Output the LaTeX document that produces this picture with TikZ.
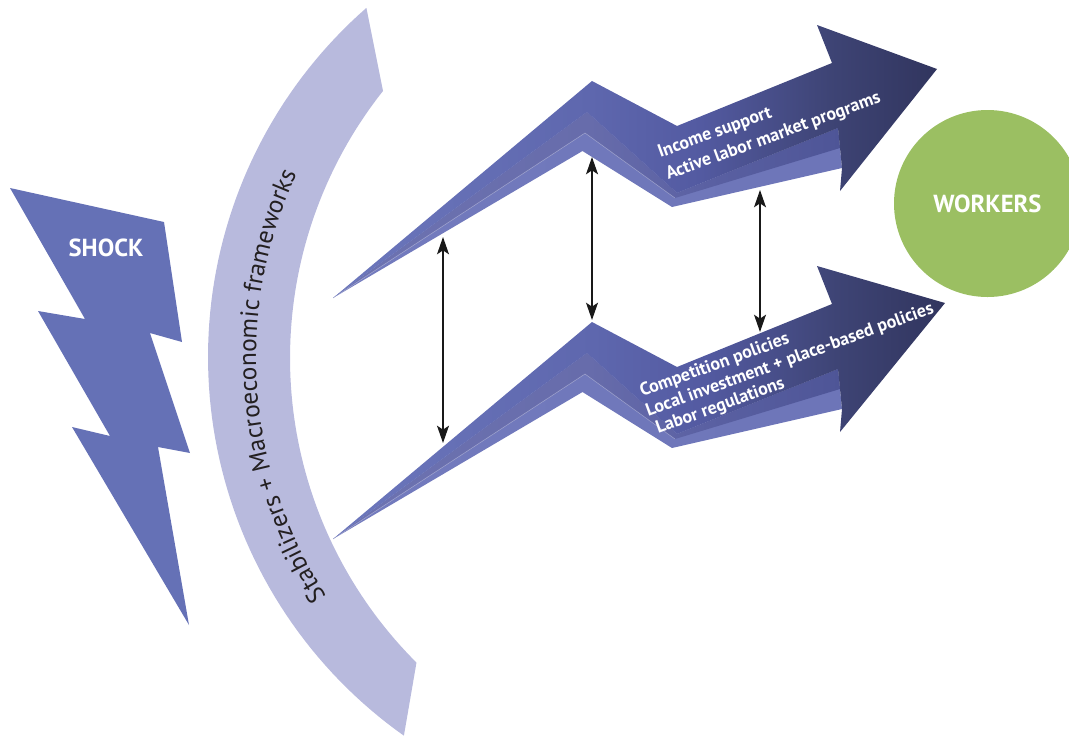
\documentclass[tikz,border=0pt]{standalone}
\usepackage{fontspec}
\setmainfont{PT Sans}
\usetikzlibrary{arrows.meta,decorations.text}
\definecolor{shockblue}{HTML}{6571B6}
\definecolor{shieldc}{HTML}{B8BADD}
\definecolor{workersg}{HTML}{9BBF62}
\definecolor{darktext}{HTML}{231F20}
\definecolor{tlA}{HTML}{6C77BC}
\definecolor{tlB}{HTML}{5E67AE}
\definecolor{tlC}{HTML}{535AA1}
\definecolor{tlD}{HTML}{3E4475}
\definecolor{tlE}{HTML}{31355E}
\definecolor{mlA}{HTML}{6D73B1}
\definecolor{mlB}{HTML}{676CAB}
\definecolor{mlC}{HTML}{5B61A3}
\definecolor{mlD}{HTML}{4E5597}
\definecolor{blA}{HTML}{737BBE}
\definecolor{blB}{HTML}{6D75B8}
\pgfdeclarehorizontalshading{toplayer}{100bp}{color(0bp)=(tlA); color(25bp)=(tlA); color(46.3bp)=(tlB); color(55.4bp)=(tlC); color(66.1bp)=(tlD); color(75bp)=(tlE); color(100bp)=(tlE)}
\pgfdeclarehorizontalshading{midlayer}{100bp}{color(0bp)=(mlA); color(25bp)=(mlA); color(50.2bp)=(mlB); color(61bp)=(mlC); color(75bp)=(mlD); color(100bp)=(mlD)}
\pgfdeclarehorizontalshading{botlayer}{100bp}{color(0bp)=(blA); color(25bp)=(blA); color(75bp)=(blB); color(100bp)=(blB)}
\newcommand\shieldfont{\fontsize{19}{21}\selectfont\color{darktext}}
\newcommand\zigarrow[4]{%
\begin{scope}[shift={(0,#2)}]
\coordinate (#1L) at (333,298);
\coordinate (#1P) at (592,81);
\coordinate (#1V) at (677,126);
\coordinate (#1N) at (832,63);
\coordinate (#1Ha) at (817,25);
\coordinate (#1H) at (#3,#4);
\coordinate (#1Hb) at (840,191);
\coordinate (#1Nb) at (842,168);
\coordinate (#1Ea) at (838,128);
\coordinate (#1Eb) at (840,148);
\coordinate (#1Pa) at (587,112);
\coordinate (#1Va) at (677,193);
\coordinate (#1Pb) at (585,133);
\coordinate (#1Vb) at (675,198);
\coordinate (#1Pc) at (582.5,151);
\coordinate (#1Vc) at (672,207);
\shade[shading=botlayer] (#1L) -- (#1Pa) -- (#1Va) -- (#1Ea) -- (#1Nb) -- (#1Vc) -- (#1Pc) -- cycle;
\shade[shading=midlayer] (#1L) -- (#1Pa) -- (#1Va) -- (#1Ea) -- (#1Eb) -- (#1Vb) -- (#1Pb) -- cycle;
\draw[highlight] (#1L) -- (#1Pb) -- (#1Vb);
\shade[shading=toplayer] (#1L) -- (#1P) -- (#1V) -- (#1N) -- (#1Ha) -- (#1H) -- (#1Hb) -- (#1Nb) -- (#1Ea) -- (#1Va) -- (#1Pa) -- cycle;
\end{scope}}
\begin{document}
\begin{tikzpicture}[x=0.75pt,y=-0.75pt,
  bigtext/.style={font=\bfseries\fontsize{18.5}{20}\selectfont, text=white, inner sep=0pt},
  ptext/.style={font=\bfseries\fontsize{13.5}{15}\selectfont, text=white, rotate=20, anchor=base west, inner sep=0pt},
  highlight/.style={draw=white, draw opacity=0.35, line width=0.4pt},
  dbl/.style={{Stealth[length=13pt,width=9pt,inset=3pt]}-{Stealth[length=13pt,width=9pt,inset=3pt]}, line width=1.1pt, draw=black!90}]
\useasboundingbox (0,0) rectangle (1069,736);
\clip (0,0) rectangle (1069,736);
% shield band
\fill[shieldc] plot[domain=125.3:228.8, samples=80] ({672+464*cos(\x)},{357+464*sin(\x)})
  -- plot[domain=218.4:134.9, samples=80] ({720+430*cos(\x)},{358+430*sin(\x)}) -- cycle;
\path[decorate, decoration={text along path, text align=center,
  text={|\shieldfont|Stabilizers + Macroeconomic frameworks}}]
  plot[domain=138:214, samples=77] ({694+438*cos(\x)},{358+438*sin(\x)});
% lightning bolt
\fill[shockblue] (10,188) -- (164,222) -- (182,342) -- (150,333) -- (190,453) -- (158,447)
  -- (189,625) -- (72,427) -- (110,436) -- (38,311) -- (85,319) -- cycle;
\node[bigtext] (shock) at (106,248) {SHOCK};
% policy arrows
\zigarrow{t}{0}{937}{69}
\zigarrow{b}{241}{945}{62}
\node[ptext] (inc) at (660,158) {Income support};
\node[ptext] (alm) at (668,180) {Active labor market programs};
\node[ptext] (comp) at (642,397) {Competition policies};
\node[ptext] (loc) at (648,417) {Local investment + place-based policies};
\node[ptext] (lab) at (658,434) {Labor regulations};
% links between the two arrows
\coordinate (a1) at (443,237); \coordinate (a2) at (443,443);
\coordinate (b1) at (592,157); \coordinate (b2) at (592,320);
\coordinate (c1) at (760,190); \coordinate (c2) at (760,332);
\draw[dbl] (a1) -- (a2);
\draw[dbl] (b1) -- (b2);
\draw[dbl] (c1) -- (c2);
% workers
\node[circle, fill=workersg, minimum size=140.25pt, inner sep=0pt, bigtext] (workers) at (987.5,203.5) {WORKERS};
\end{tikzpicture}
\end{document}
